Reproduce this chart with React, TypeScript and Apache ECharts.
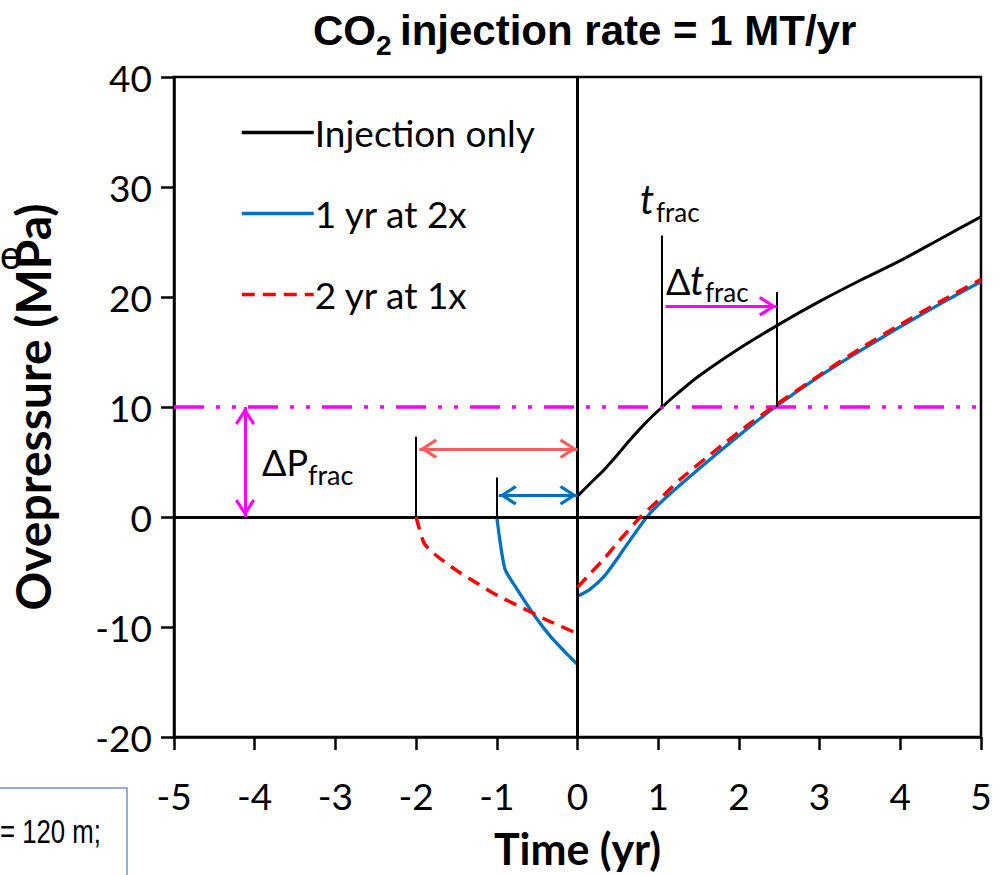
import React, { useEffect, useRef } from 'react';
import * as echarts from 'echarts';

// ---- data ----
const seriesNames = ['Injection only', '1 yr at 2x', '2 yr at 1x'];

const injectionOnly: [number, number][] = [
  [0, 1.9], [0.15, 3.0], [0.33, 4.3], [0.5, 5.7], [0.65, 7.0], [0.85, 8.6],
  [1.05, 10], [1.25, 11.3], [1.5, 12.8], [2, 15.3], [2.47, 17.4], [3, 19.6],
  [3.5, 21.5], [4, 23.3], [4.5, 25.3], [5, 27.3],
];

const blueBefore: [number, number][] = [
  [-1, 0], [-0.9, -4.7], [-0.75, -6.55], [-0.5, -9.3], [-0.33, -10.9], [-0.15, -12.3], [0, -13.4],
];
const blueAfter: [number, number][] = [
  [0, -7.2], [0.15, -6.6], [0.33, -5.4], [0.5, -3.7], [0.7, -1.6], [0.86, 0], [1.0, 1.1],
  [1.27, 2.9], [1.7, 5.6], [2.1, 8.0], [2.45, 10], [3, 12.8], [3.5, 15.1], [4, 17.3],
  [4.5, 19.4], [5, 21.4],
];

const redBefore: [number, number][] = [
  [-2, 0], [-1.9, -2.4], [-1.75, -3.5], [-1.5, -4.85], [-1.25, -6.0], [-1, -7.1],
  [-0.7, -8.2], [-0.4, -9.3], [0, -10.6],
];
const redAfter: [number, number][] = [
  [0, -6.4], [0.15, -5.2], [0.33, -3.8], [0.5, -2.3], [0.78, 0], [1.0, 1.5], [1.27, 3.4],
  [1.7, 6.0], [2.1, 8.3], [2.42, 10], [3, 12.9], [3.5, 15.3], [4, 17.5], [4.5, 19.6], [5, 21.6],
];

// fracture threshold and annotation values
const fracPressure = 10;
const dPArrowX = -4.12;
const redArrow = { x0: -1.96, x1: 0, y: 6.2 };
const blueArrow = { x0: -0.975, x1: 0, y: 1.97 };
const dtArrow = { x0: 1.09, x1: 2.47, y: 19.15 };
const marks = [
  { x: -2.0, y0: 7.3, y1: 0 },
  { x: -1.0, y0: 3.6, y1: 0 },
  { x: 1.05, y0: 25.6, y1: 10 },
  { x: 2.47, y0: 20.45, y1: 10 },
];

const BLACK = '#000000';
const BLUE = '#0070C0';
const RED = '#FF0000';
const SALMON = '#FF5B5B';
const MAGENTA = '#FF00FF';

const chevron = 'path://M10,0 L10.01,0.01 Z M10,18 L20,33 L17.5,35 L10,23.5 L2.5,35 L0,33 Z';

const FONT = 'Lato';

function arrow(x0: number, y0: number, x1: number, y1: number, color: string, both: boolean) {
  return [
    {
      coord: [x0, y0],
      symbol: both ? chevron : 'none',
      symbolSize: [20, 36],
      lineStyle: { color, width: 3, type: 'solid' },
      itemStyle: { color },
    },
    { coord: [x1, y1], symbol: chevron, symbolSize: [20, 36], itemStyle: { color } },
  ];
}

export default function App() {
  const ref = useRef<HTMLDivElement>(null);

  useEffect(() => {
    if (!ref.current) return;
    const chart = echarts.init(ref.current, undefined, { renderer: 'svg' });

    const brk: any = [0, '-'];
    const markLineData: any[] = [
      { xAxis: 0, lineStyle: { color: BLACK, width: 3, type: 'solid' } },
      { yAxis: 0, lineStyle: { color: BLACK, width: 3, type: 'solid' } },
      { yAxis: fracPressure, lineStyle: { color: MAGENTA, width: 3.5, type: [30, 12, 4, 12, 4, 12] } },
      ...marks.map((m) => [
        { coord: [m.x, m.y0], lineStyle: { color: BLACK, width: 2, type: 'solid' } },
        { coord: [m.x, m.y1] },
      ]),
      arrow(dPArrowX, fracPressure, dPArrowX, 0, MAGENTA, true),
      arrow(redArrow.x0, redArrow.y, redArrow.x1, redArrow.y, SALMON, true),
      arrow(blueArrow.x0, blueArrow.y, blueArrow.x1, blueArrow.y, BLUE, true),
      arrow(dtArrow.x0, dtArrow.y, dtArrow.x1, dtArrow.y, MAGENTA, false),
    ];

    const option: any = {
      animation: false,
      backgroundColor: '#ffffff',
      grid: {
        left: 172, right: 19, top: 77, bottom: 138,
        show: true, borderColor: BLACK, borderWidth: 2.5, backgroundColor: 'transparent',
      },
      legend: {
        orient: 'vertical',
        left: 235,
        top: 109,
        itemWidth: 72,
        itemHeight: 40,
        itemGap: 44,
        itemStyle: { opacity: 0 },
        lineStyle: { width: 3.5 },
        textStyle: { fontFamily: FONT, fontSize: 37, color: BLACK, padding: [0, 0, 0, -4] },
        data: seriesNames,
      },
      xAxis: {
        type: 'value',
        min: -5, max: 5, interval: 1,
        name: 'Time (yr)',
        nameLocation: 'middle',
        nameGap: 90,
        nameTextStyle: { fontFamily: FONT, fontSize: 43, fontWeight: 'bold', color: BLACK },
        axisLine: { onZero: false, lineStyle: { color: BLACK, width: 2.5 } },
        axisTick: { show: true, inside: false, length: 13, lineStyle: { color: BLACK, width: 2.5 } },
        axisLabel: { fontFamily: FONT, fontSize: 37, color: BLACK, margin: 40 },
        splitLine: { show: false },
      },
      yAxis: {
        type: 'value',
        min: -20, max: 40, interval: 10,
        name: 'Ovepressure (MPa)',
        nameLocation: 'middle',
        nameGap: 118,
        nameRotate: 90,
        nameTextStyle: { fontFamily: FONT, fontSize: 48, fontWeight: 'bold', color: BLACK },
        axisLine: { onZero: false, lineStyle: { color: BLACK, width: 2.5 } },
        axisTick: { show: true, inside: false, length: 13, lineStyle: { color: BLACK, width: 2.5 } },
        axisLabel: { fontFamily: FONT, fontSize: 37, color: BLACK, margin: 22 },
        splitLine: { show: false },
      },
      series: [
        {
          name: seriesNames[0],
          type: 'line',
          data: injectionOnly,
          symbol: 'none',
          smooth: 0.3,
          lineStyle: { color: BLACK, width: 3 },
          itemStyle: { color: BLACK },
          z: 3,
          markLine: {
            silent: true,
            symbol: ['none', 'none'],
            label: { show: false },
            animation: false,
            data: markLineData,
          },
        },
        {
          name: seriesNames[1],
          type: 'line',
          data: [...blueBefore, brk, ...blueAfter],
          symbol: 'none',
          smooth: 0.2,
          connectNulls: false,
          lineStyle: { color: BLUE, width: 3.3 },
          itemStyle: { color: BLUE },
          z: 4,
        },
        {
          name: seriesNames[2],
          type: 'line',
          data: [...redBefore, brk, ...redAfter],
          symbol: 'none',
          smooth: 0.2,
          connectNulls: false,
          lineStyle: { color: RED, width: 3.5, type: [13, 8] },
          itemStyle: { color: RED },
          z: 5,
        },
      ],
      graphic: [
        // title
        { type: 'text', x: 313, y: 30, style: { text: 'CO', font: 'bold 42px "Liberation Sans"', fill: BLACK, verticalAlign: 'middle', align: 'left' } },
        { type: 'text', x: 376, y: 45, style: { text: '2', font: 'bold 28px "Liberation Sans"', fill: BLACK, verticalAlign: 'middle', align: 'left' } },
        { type: 'text', x: 400, y: 30, style: { text: 'injection rate = 1 MT/yr', font: 'bold 42px "Liberation Sans"', fill: BLACK, verticalAlign: 'middle', align: 'left' } },
        // annotations
        { type: 'text', x: 262, y: 462, style: { text: 'ΔP', font: `36px ${FONT}`, fill: BLACK, verticalAlign: 'middle' } },
        { type: 'text', x: 308, y: 474, style: { text: 'frac', font: `27px ${FONT}`, fill: BLACK, verticalAlign: 'middle' } },
        { type: 'text', x: 640, y: 199, style: { text: 't', font: `italic 40px ${FONT}`, fill: BLACK, verticalAlign: 'middle' } },
        { type: 'text', x: 656, y: 212, style: { text: 'frac', font: `26px ${FONT}`, fill: BLACK, verticalAlign: 'middle' } },
        { type: 'text', x: 666, y: 281, style: { text: 'Δ', font: `36px ${FONT}`, fill: BLACK, verticalAlign: 'middle' } },
        { type: 'text', x: 690, y: 280, style: { text: 't', font: `italic 40px ${FONT}`, fill: BLACK, verticalAlign: 'middle' } },
        { type: 'text', x: 705, y: 292, style: { text: 'frac', font: `26px ${FONT}`, fill: BLACK, verticalAlign: 'middle' } },
        // fragments at the left edge
        { type: 'text', x: 0, y: 256, style: { text: 'e', font: '38px "Liberation Sans"', fill: BLACK, verticalAlign: 'middle' } },
        { type: 'rect', shape: { x: -5, y: 788, width: 132, height: 120 }, style: { fill: '#ffffff', stroke: '#6d93cf', lineWidth: 1.5 } },
        { type: 'text', x: 0, y: 831, scaleX: 0.78, style: { text: '= 120 m;', font: '33px "Liberation Sans"', fill: BLACK, verticalAlign: 'middle', align: 'left' } },
      ],
    };

    chart.setOption(option);
    return () => chart.dispose();
  }, []);

  return <div ref={ref} style={{ position: 'absolute', left: 0, top: 0, width: 1000, height: 875 }} />;
}
